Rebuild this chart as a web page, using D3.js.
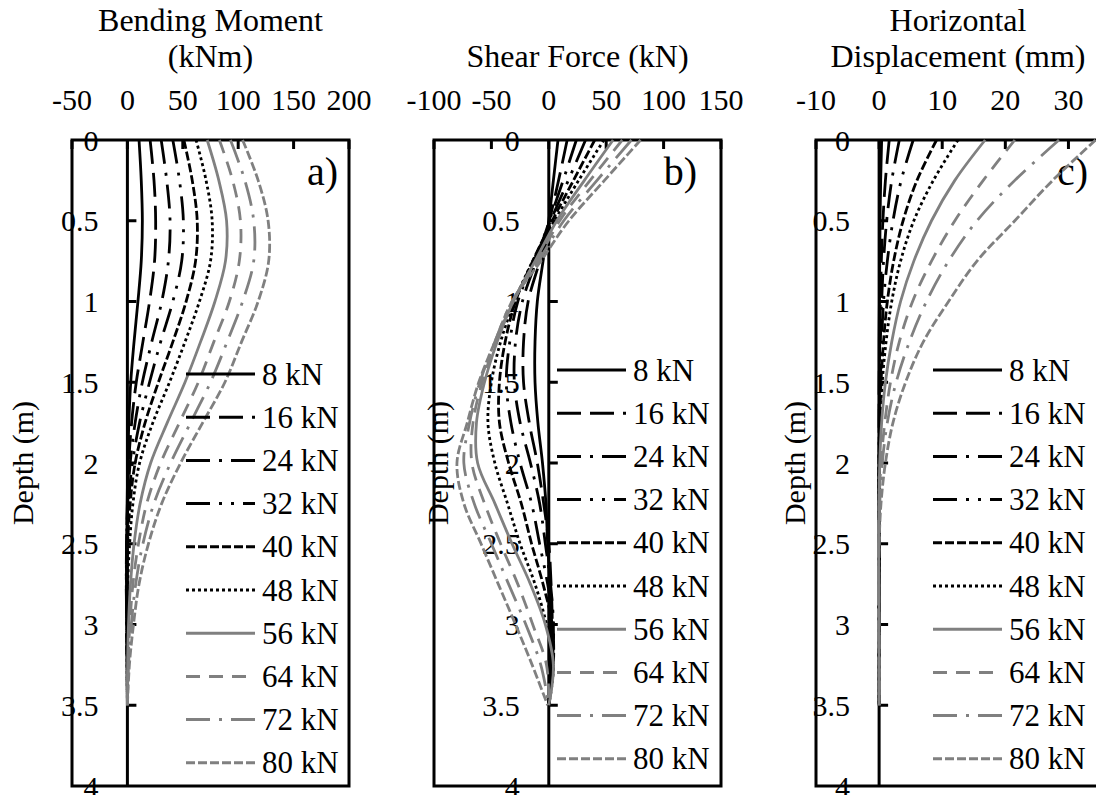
<!DOCTYPE html>
<html>
<head>
<meta charset="utf-8">
<script src="https://cdn.jsdelivr.net/npm/d3@7/dist/d3.min.js"></script>
<style>
  body { margin: 0; background: #fff; }
  svg { display: block; }
  text { font-family: "Liberation Serif", "Times New Roman", serif; fill: #000; }
</style>
</head>
<body>
<div id="chart"></div>
<script>
// depth of each reading along the pile (m)
const depths = [0, 0.25, 0.5, 0.75, 1, 1.25, 1.5, 1.75, 2, 2.25, 2.5, 2.75, 3, 3.25, 3.5];
const loads = ["8 kN", "16 kN", "24 kN", "32 kN", "40 kN", "48 kN", "56 kN", "64 kN", "72 kN", "80 kN"];
const depthTicks = [0, 0.5, 1, 1.5, 2, 2.5, 3, 3.5, 4];

// bending moment (kNm), one row per load
const bendingMoment = [
  [10.5, 12.5, 13.5, 12.5, 9.5, 6, 3, 1.3, 0.4, -0.2, -0.5, -0.5, -0.3, -0.1, 0],
  [20.5, 24, 25.5, 24.5, 20, 14, 8, 3.8, 1.2, 0, -0.7, -0.8, -0.5, -0.2, 0],
  [30.5, 35.5, 38.5, 37, 31, 22, 13.5, 7, 2.5, 0.3, -0.8, -1, -0.6, -0.2, 0],
  [41, 47, 50.5, 49, 41, 30, 20, 11, 4.5, 1, -0.6, -1, -0.7, -0.2, 0],
  [51, 58.5, 63, 61.5, 53, 41, 28, 16, 7, 2.5, 0.2, -0.8, -0.7, -0.2, 0],
  [62, 71, 76.5, 75, 65, 52, 38, 23, 11, 5, 2, 0.3, -0.3, -0.2, 0],
  [72, 82.5, 89.5, 88.5, 79, 66, 52, 36, 21, 11.5, 6, 2.8, 1, 0.2, 0],
  [83, 95, 102, 101, 92, 78, 64, 47, 30, 17.5, 10, 5, 2.2, 0.6, 0],
  [93, 106, 114, 114, 104, 90, 75, 57, 39, 24, 14, 7.5, 3.5, 1, 0],
  [104, 118, 127, 127.5, 118, 103, 88, 68, 48, 31, 19, 10.5, 5.5, 1.8, 0]
];

// shear force (kN)
const shearForce = [
  [8, 4, 0, -5, -10, -12, -12, -9.5, -5.5, -2.5, -1, 1, 2, 1.5, 0],
  [16, 8.5, 0.5, -8, -18, -22, -22, -17, -10, -4.5, 0, 2, 3, 2, 0],
  [24, 12.5, 0.5, -11, -23, -29, -30, -25, -16, -8, -3, 1.5, 4, 2.5, 0],
  [32, 17, 1.5, -13, -27, -34, -37, -33, -25, -15, -8, -1, 4, 3, 0],
  [40, 21.5, 3, -14, -29, -38, -43, -43, -35, -24, -15, -5, 3, 4, 0],
  [48, 26, 5, -14, -30, -42, -50, -53, -47, -36, -25, -12, -2, 4, 0],
  [56, 31, 7, -12, -31, -45, -56, -63, -62, -47, -32, -16, -3, 4, 0],
  [64, 36, 9.5, -10, -31, -46, -58, -66, -67, -56, -42, -27, -14, -2, 0],
  [72, 42, 13, -9, -32, -47, -60, -69, -74, -65, -50, -35, -20, -7, 0],
  [80, 48.5, 17.5, -7, -32, -47, -61, -71, -80, -74, -59, -44, -29, -14.5, -1]
];

// horizontal displacement (mm)
const displacement = [
  [0.4, 0.25, 0.15, 0.1, 0.05, 0, 0, 0, 0, 0, 0, 0, 0, 0, 0],
  [1.6, 1, 0.6, 0.35, 0.2, 0.1, 0, 0, 0, 0, 0, 0, 0, 0, 0],
  [3.2, 2, 1.2, 0.7, 0.4, 0.2, 0.1, 0, 0, 0, 0, 0, 0, 0, 0],
  [5.4, 3.5, 2.2, 1.3, 0.7, 0.4, 0.2, 0.1, 0, 0, 0, 0, 0, 0, 0],
  [9.1, 6, 3.8, 2.3, 1.3, 0.7, 0.3, 0.1, 0, 0, 0, 0, 0, 0, 0],
  [12.5, 8.6, 5.5, 3.4, 2, 1.1, 0.5, 0.2, 0, 0, 0, 0, 0, 0, 0],
  [16.8, 12, 8.3, 5.5, 3.4, 2, 1, 0.4, 0.1, 0, -0.1, 0, 0, 0, 0],
  [21.5, 16.5, 12, 8.3, 5.3, 3.2, 1.8, 0.9, 0.3, 0, -0.1, -0.1, 0, 0, 0],
  [28.5, 21.5, 15.5, 11, 7.5, 4.8, 2.7, 1.3, 0.5, 0.1, 0, -0.1, -0.1, 0, 0],
  [34.3, 27.5, 21.5, 15.5, 11, 7, 4.2, 2.2, 1, 0.3, 0, -0.1, -0.1, 0, 0]
];

const momentTicks = [-50, 0, 50, 100, 150, 200];
const shearTicks = [-100, -50, 0, 50, 100, 150];
const dispTicks = [-10, 0, 10, 20, 30];

// line look for each load
const grey = "#808080";
const lineStyles = [
  { color: "#000", dash: null },
  { color: "#000", dash: "24,9" },
  { color: "#000", dash: "24,9,3,9" },
  { color: "#000", dash: "24,9,3,9,3,9" },
  { color: "#000", dash: "9,3" },
  { color: "#000", dash: "3,3" },
  { color: grey, dash: null },
  { color: grey, dash: "14,9" },
  { color: grey, dash: "24,9,3,9" },
  { color: grey, dash: "9,3" }
];

const width = 1096, height = 795;
const plotTop = 140, plotBottom = 786;

const panels = [
  { values: bendingMoment, domain: [-50, 200], ticks: momentTicks, left: 72, right: 349,
    title: ["Bending Moment", "(kNm)"], depthX: 33, legX: 186, legY: 374, tag: "a)", tagX: 338 },
  { values: shearForce, domain: [-100, 150], ticks: shearTicks, left: 434, right: 721,
    title: ["Shear Force (kN)"], depthX: 448, legX: 557, legY: 370, tag: "b)", tagX: 697 },
  { values: displacement, domain: [-10, 35], ticks: dispTicks, left: 816, right: 1100,
    title: ["Horizontal", "Displacement (mm)"], depthX: 805, legX: 933, legY: 370, tag: "c)", tagX: 1088 }
];

const svg = d3.select("#chart").append("svg")
  .attr("width", width)
  .attr("height", height)
  .attr("viewBox", `0 0 ${width} ${height}`);

const y = d3.scaleLinear().domain([0, 4]).range([plotTop, plotBottom]);

panels.forEach(p => {
  const x = d3.scaleLinear().domain(p.domain).range([p.left, p.right]);
  const x0 = x(0);
  const g = svg.append("g");
  const mid = (p.left + p.right) / 2;

  // titles
  const titleBase = p.title.length === 2 ? [31, 67] : [67];
  p.title.forEach((t, i) => {
    g.append("text").attr("x", mid).attr("y", titleBase[i])
      .attr("text-anchor", "middle").style("font-size", "32px").text(t);
  });

  // top tick labels
  g.selectAll(".xl").data(p.ticks).enter().append("text")
    .attr("x", d => x(d)).attr("y", 110)
    .attr("text-anchor", "middle").style("font-size", "30px")
    .text(d => d);

  // depth tick labels (left of the zero line)
  g.selectAll(".yl").data(depthTicks).enter().append("text")
    .attr("x", x0 - 29).attr("y", d => y(d))
    .attr("text-anchor", "end").attr("dominant-baseline", "central")
    .style("font-size", "30px")
    .text(d => d);

  g.append("text")
    .attr("transform", `translate(${p.depthX},${(plotTop + plotBottom) / 2}) rotate(-90)`)
    .attr("text-anchor", "middle").style("font-size", "30px")
    .text("Depth (m)");

  // plot frame
  g.append("rect").attr("x", p.left).attr("y", plotTop)
    .attr("width", p.right - p.left).attr("height", plotBottom - plotTop)
    .attr("fill", "none").attr("stroke", "#000").attr("stroke-width", 3);

  // zero line with depth ticks
  g.append("line").attr("x1", x0).attr("x2", x0).attr("y1", plotTop).attr("y2", plotBottom)
    .attr("stroke", "#000").attr("stroke-width", 3);
  g.selectAll(".yt").data(depthTicks.slice(1, -1)).enter().append("line")
    .attr("x1", x0).attr("x2", x0 + 9).attr("y1", d => y(d)).attr("y2", d => y(d))
    .attr("stroke", "#000").attr("stroke-width", 3);

  // top ticks
  g.selectAll(".xt").data(p.ticks).enter().append("line")
    .attr("x1", d => x(d)).attr("x2", d => x(d)).attr("y1", plotTop).attr("y2", plotTop + 9)
    .attr("stroke", "#000").attr("stroke-width", 3);

  g.append("text").attr("x", p.tagX).attr("y", 185)
    .attr("text-anchor", "end").style("font-size", "40px").text(p.tag);

  // profiles
  const line = d3.line()
    .x(d => x(d[0]))
    .y(d => y(d[1]))
    .curve(d3.curveCatmullRom.alpha(0.5));

  p.values.forEach((row, i) => {
    const st = lineStyles[i];
    g.append("path")
      .datum(row.map((v, k) => [v, depths[k]]))
      .attr("d", line)
      .attr("fill", "none")
      .attr("stroke", st.color)
      .attr("stroke-width", 2.8)
      .attr("stroke-dasharray", st.dash);
  });

  // legend
  const leg = g.selectAll(".leg").data(loads).enter().append("g")
    .attr("transform", (d, i) => `translate(${p.legX},${p.legY + i * 43.2})`);
  leg.append("line").attr("x1", 0).attr("x2", 69).attr("y1", 0).attr("y2", 0)
    .attr("stroke", (d, i) => lineStyles[i].color)
    .attr("stroke-width", 3)
    .attr("stroke-dasharray", (d, i) => lineStyles[i].dash);
  leg.append("text").attr("x", 76).attr("y", 0)
    .attr("dominant-baseline", "central").style("font-size", "31px")
    .text(d => d);
});
</script>
</body>
</html>
